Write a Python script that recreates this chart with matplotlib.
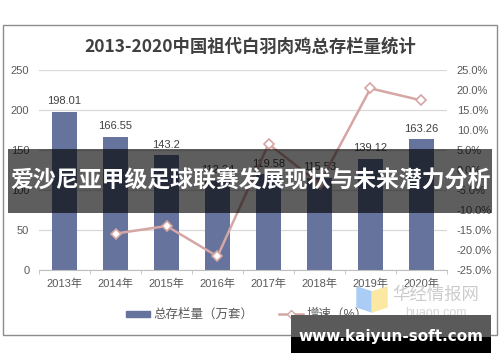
import matplotlib
matplotlib.use('Agg')
import matplotlib.pyplot as plt
from matplotlib.patches import Rectangle, Polygon
from matplotlib.lines import Line2D
from matplotlib.ticker import FuncFormatter, FixedLocator

plt.rcParams['font.family'] = ['Liberation Sans', 'Noto Sans CJK SC', 'DejaVu Sans']

years = ['2013年', '2014年', '2015年', '2016年', '2017年', '2018年', '2019年', '2020年']
stock = [198.01, 166.55, 143.2, 112.24, 119.58, 115.53, 139.12, 163.26]
growth_years = [1, 2, 3, 4, 5, 6, 7]
growth = [-15.9, -14.0, -21.6, 6.5, -3.4, 20.4, 17.4]

bar_color = '#66739C'
line_color = '#D5A6A4'
text_color = '#595959'

W, H = 500, 362
fig = plt.figure(figsize=(5, 3.62), dpi=100)

def fx(px):
    return px / W

def fy(py):
    return 1 - py / H

# chart frame
fig.add_artist(Rectangle((fx(3), fy(335)), fx(494), 310 / H, transform=fig.transFigure,
                         fill=False, edgecolor='#8c8c8c', lw=1.0, zorder=0))

ax = fig.add_axes([fx(39), fy(270), fx(408), 200 / H])
x = range(len(years))
ax.bar(x, stock, width=0.49, color=bar_color, zorder=2)
for i, v in enumerate(stock):
    ax.annotate(f'{v:g}' if v != 143.2 else '143.2', (i, v), xytext=(0, 4),
                textcoords='offset points', ha='center', va='bottom',
                fontsize=8, color='#404040')
ax.set_xlim(-0.5, len(years) - 0.5)
ax.set_ylim(0, 250)
ax.set_yticks([0, 50, 100, 150, 200, 250])
ax.yaxis.grid(True, color='#d9d9d9', lw=0.9, zorder=0)
ax.set_axisbelow(True)
for s in ['top', 'left', 'right']:
    ax.spines[s].set_visible(False)
ax.spines['bottom'].set_color('#bfbfbf')
ax.set_xticks(list(x))
ax.set_xticklabels(years)
ax.xaxis.set_minor_locator(FixedLocator([i - 0.5 for i in range(len(years) + 1)]))
ax.tick_params(axis='x', which='major', length=0, labelsize=8, labelcolor=text_color, pad=6)
ax.tick_params(axis='x', which='minor', length=3, color='#bfbfbf')
ax.tick_params(axis='y', length=0, labelsize=8, labelcolor=text_color, pad=7)

ax2 = ax.twinx()
ax2.plot(growth_years, growth, color=line_color, lw=1.8, marker='D', ms=5,
         mfc='white', mec=line_color, mew=1.2, zorder=3)
ax2.set_ylim(-25, 25)
ax2.set_yticks(range(-25, 30, 5))
ax2.yaxis.set_major_formatter(FuncFormatter(lambda v, p: f'{v:.1f}%'))
ax2.tick_params(axis='y', length=0, labelsize=8, labelcolor=text_color, pad=7)
for s in ['top', 'left', 'right', 'bottom']:
    ax2.spines[s].set_visible(False)

fig.text(0.5, fy(47), '2013-2020中国祖代白羽肉鸡总存栏量统计', ha='center', va='center',
         fontsize=12.5, fontweight='bold', color='#404040',
         family=['Noto Sans CJK SC', 'DejaVu Sans'])

handles = [Rectangle((0, 0), 1, 1, color=bar_color),
           Line2D([], [], color=line_color, lw=1.8, marker='D', ms=4,
                  mfc='white', mec=line_color)]
fig.legend(handles, ['总存栏量（万套）', '增速（%）'], loc='center', ncol=2,
           bbox_to_anchor=(fx(247), fy(315)), frameon=False, fontsize=9,
           labelcolor=text_color, handlelength=1.9, handleheight=0.35,
           columnspacing=2.0, handletextpad=0.3)

# watermark logo
fig.add_artist(Polygon([[fx(357), fy(287)], [fx(372), fy(292)], [fx(372), fy(312)], [fx(357), fy(307)]],
                       closed=True, transform=fig.transFigure, color='#a9cdf5', zorder=6))
fig.add_artist(Polygon([[fx(372), fy(292)], [fx(387), fy(287)], [fx(387), fy(307)], [fx(372), fy(312)]],
                       closed=True, transform=fig.transFigure, color='#fbe9a3', zorder=6))
fig.text(fx(436), fy(295), '华经情报网', ha='center', va='center', fontsize=12.5,
         color='#cccccc', family=['Noto Sans CJK SC'], zorder=6)
fig.text(fx(436), fy(313), 'huaon.com', ha='center', va='center', fontsize=9,
         color='#d6d6d6', zorder=6)

# banner
fig.add_artist(Rectangle((fx(8), fy(213)), fx(484), 64 / H, transform=fig.transFigure,
                         color='black', alpha=0.63, lw=0, zorder=10))
fig.text(0.5, fy(181), '爱沙尼亚甲级足球联赛发展现状与未来潜力分析', ha='center', va='center',
         fontsize=16.5, fontweight='bold', color='white',
         family=['Noto Sans CJK SC', 'DejaVu Sans'], zorder=11)

# site box
fig.add_artist(Rectangle((fx(291), fy(337)), fx(200), 22 / H, transform=fig.transFigure,
                         color='#5a5a5a', lw=0, zorder=10))
fig.add_artist(Rectangle((fx(291), fy(353)), fx(200), 16 / H, transform=fig.transFigure,
                         color='black', lw=0, zorder=10))
fig.text(fx(391), fy(337), 'www.kaiyun-soft.com', ha='center', va='center',
         fontsize=11, fontweight='bold', color='white', family=['DejaVu Sans'], zorder=11)

fig.savefig('out.png', dpi=100)
